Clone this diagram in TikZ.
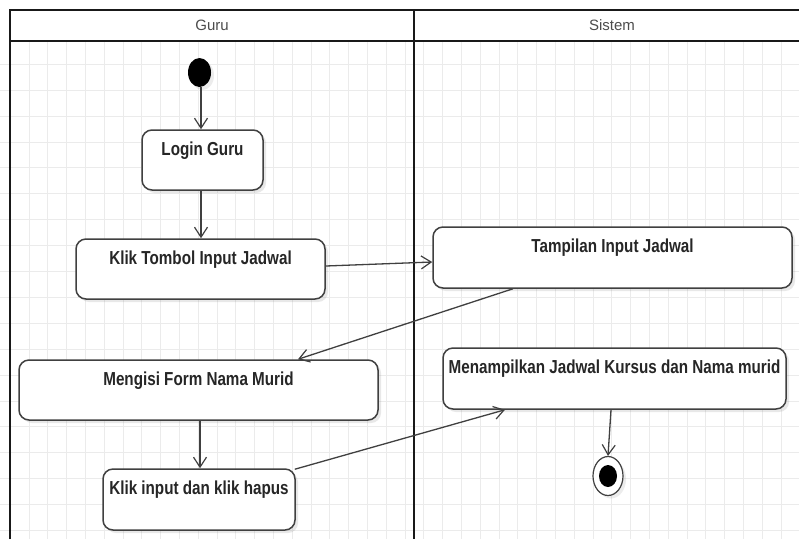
\documentclass[tikz,border=0pt]{standalone}
\usepackage{fontspec}
\setmainfont{Liberation Sans}
\newfontfamily\actfont[FakeStretch=0.81]{Liberation Sans}
\usetikzlibrary{arrows.meta,shadows,shapes.geometric}

\definecolor{gridc}{gray}{0.92}
\definecolor{edgec}{gray}{0.25}
\definecolor{textc}{gray}{0.15}

\tikzset{
  actbox/.style={draw=edgec, line width=1.5pt, rounded corners=10pt, fill=white,
    inner sep=0pt, minimum height=60pt,
    drop shadow={shadow xshift=3pt, shadow yshift=-3pt, opacity=0.18, fill=gray}},
  acttext/.style={anchor=base, inner sep=0pt, text=textc,
    font=\actfont\bfseries\fontsize{18.8}{20}\selectfont},
  flow/.style={draw=edgec, line width=1.3pt,
    -{Straight Barb[length=10pt,width=13pt,line width=1.2pt]}},
  lane/.style={line width=2.6pt, black!90},
  lanetitle/.style={text=black!70, font=\fontsize{15}{17}\selectfont, inner sep=0pt}
}

\begin{document}
\begin{tikzpicture}[x=1pt, y=-1pt]
  \useasboundingbox (0,0) rectangle (799,539);
  \fill[white] (0,0) rectangle (799,539);

  % background grid
  \foreach \i in {0,...,41} \draw[gridc, line width=0.8pt] ({29+18.8*\i},41) -- ({29+18.8*\i},539);
  \foreach \j in {-2,...,16} \draw[gridc, line width=0.8pt] (0,{116+25.9*\j}) -- (799,{116+25.9*\j});
  \fill[white] (0,0) rectangle (799,41);

  % swimlanes
  \draw[lane] (10,539) -- (10,10) -- (799,10);
  \draw[lane] (10,41) -- (799,41);
  \draw[lane] (414,10) -- (414,539);
  \node[lanetitle] (laneGuru) at (212,25) {Guru};
  \node[lanetitle] (laneSistem) at (612,25) {Sistem};

  % initial and final states
  \node[ellipse, fill=black, minimum width=23pt, minimum height=29pt, inner sep=0pt,
        drop shadow={shadow xshift=3pt, shadow yshift=-3pt, opacity=0.15, fill=gray}] (start) at (199.5,72.5) {};
  \node[ellipse, draw=edgec, line width=1.2pt, fill=white, minimum width=30pt, minimum height=39pt, inner sep=0pt,
        drop shadow={shadow xshift=3pt, shadow yshift=-3pt, opacity=0.15, fill=gray}] (end) at (608,476) {};
  \node[ellipse, fill=black, minimum width=18pt, minimum height=22pt, inner sep=0pt] (endDot) at (end.center) {};

  % activities
  \node[actbox, minimum width=121pt] (login) at (202.5,160) {};
  \node[acttext] (loginT) at ([yshift=-26pt]login.north) {Login Guru};

  \node[actbox, minimum width=249pt] (tombol) at (200.5,269) {};
  \node[acttext] (tombolT) at ([yshift=-26pt]tombol.north) {Klik Tombol Input Jadwal};

  \node[actbox, minimum width=359pt, minimum height=61pt] (tampil) at (612.5,257.5) {};
  \node[acttext] (tampilT) at ([yshift=-26pt]tampil.north) {Tampilan Input Jadwal};

  \node[actbox, minimum width=359pt] (isi) at (198.5,390) {};
  \node[acttext] (isiT) at ([yshift=-26pt]isi.north) {Mengisi Form Nama Murid};

  \node[actbox, minimum width=343pt, minimum height=61pt] (hasil) at (614.5,378.5) {};
  \node[acttext] (hasilT) at ([yshift=-26pt]hasil.north) {Menampilkan Jadwal Kursus dan Nama murid};

  \node[actbox, minimum width=192pt, minimum height=61pt] (klik) at (199,499.5) {};
  \node[acttext] (klikT) at ([yshift=-26pt]klik.north) {Klik input dan klik hapus};

  % control flow
  \draw[flow] ([xshift=1.5pt]start.south) -- ([xshift=-1.5pt]login.north);
  \draw[flow] ([xshift=-1.5pt]login.south) -- ([xshift=0.5pt]tombol.north);
  \draw[flow] ([yshift=3pt]tombol.east) -- ([yshift=-4.5pt]tampil.west);
  \draw[flow] ([xshift=-99.5pt]tampil.south) -- ([xshift=99.5pt]isi.north);
  \draw[flow] ([xshift=1.5pt]isi.south) -- ([xshift=1pt]klik.north);
  \draw[flow] ([xshift=-1pt,yshift=-1pt]klik.north east) -- ([xshift=-109.5pt]hasil.south);
  \draw[flow] ([xshift=-3.5pt]hasil.south) -- (end.north);
\end{tikzpicture}
\end{document}
